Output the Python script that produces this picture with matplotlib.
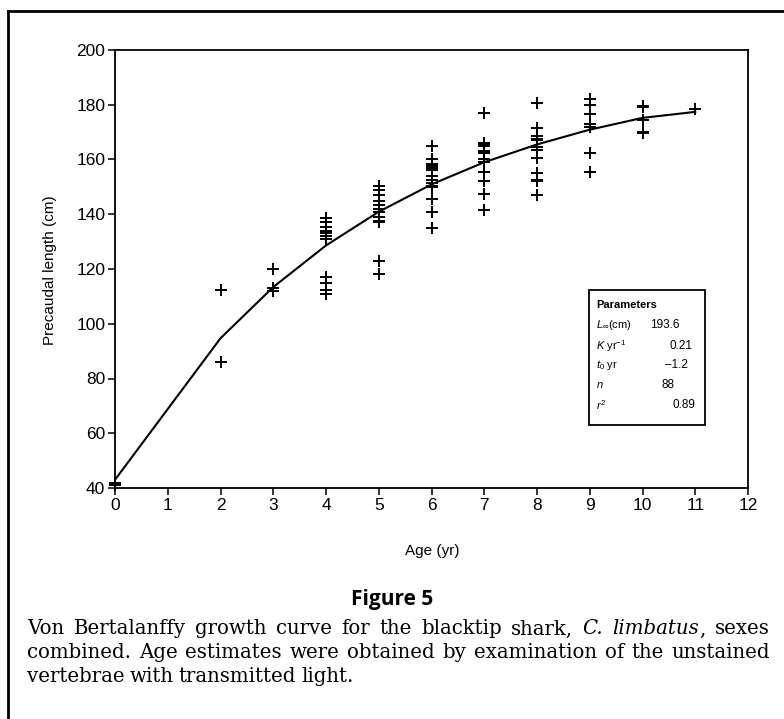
import matplotlib
matplotlib.use("Agg")
import matplotlib.pyplot as plt
from matplotlib.lines import Line2D
from matplotlib.patches import Rectangle

plt.rcParams['font.family'] = ['Liberation Sans', 'DejaVu Sans']
plt.rcParams['mathtext.fontset'] = 'custom'
plt.rcParams['mathtext.rm'] = 'Liberation Sans'
plt.rcParams['mathtext.it'] = 'Liberation Sans:italic'
plt.rcParams['mathtext.bf'] = 'Liberation Sans:bold'

obs = {
    0: [42.0, 41.0],
    2: [112.5, 86.0],
    3: [120.0, 113.0, 112.0],
    4: [138.5, 137.0, 135.5, 134.0, 133.0, 132.0, 131.0, 117.0, 115.0, 112.5, 111.0],
    5: [150.5, 149.0, 147.0, 145.0, 143.5, 142.0, 141.0, 139.0, 137.5, 137.0, 123.0, 118.0],
    6: [165.0, 160.0, 158.5, 157.5, 157.0, 156.0, 154.0, 152.5, 151.5, 150.5, 150.0, 145.5, 141.0, 135.0],
    7: [177.0, 166.0, 165.5, 165.0, 163.0, 162.5, 160.0, 159.0, 155.5, 152.0, 147.5, 141.5],
    8: [180.5, 171.5, 168.5, 167.5, 167.0, 164.5, 163.5, 160.5, 155.0, 152.5, 152.0, 147.0],
    9: [182.0, 180.0, 176.5, 173.0, 172.0, 162.5, 155.5],
    10: [179.5, 179.0, 174.5, 170.0, 169.5],
    11: [178.5],
}

# fitted growth curve, read at each age
curve_age = [0, 2, 3, 4, 5, 6, 7, 8, 9, 10, 11]
curve_len = [43.0, 94.7, 113.4, 128.6, 140.9, 150.9, 159.0, 165.5, 170.9, 175.2, 177.4]

param_names = [r'$L_{\infty}$(cm)', r'$K$ yr$^{-1}$', r'$t_0$ yr', r'$n$', r'$r^2$']
param_values = ['193.6', '0.21', '\u20131.2', '88', '0.89']

caption_lines = [
    [("Von", 'normal'), ("Bertalanffy", 'normal'), ("growth", 'normal'), ("curve", 'normal'),
     ("for", 'normal'), ("the", 'normal'), ("blacktip", 'normal'), ("shark,", 'normal'),
     ("C.", 'italic'), ("limbatus", 'italic'), (",", 'attach'), ("sexes", 'normal')],
    [(w, 'normal') for w in "combined. Age estimates were obtained by examination of the unstained".split()],
    [(w, 'normal') for w in "vertebrae with transmitted light.".split()],
]

W, H = 784, 719
fig = plt.figure(figsize=(W / 100, H / 100), dpi=100)
ax = fig.add_axes([115 / W, 1 - 488 / H, (748 - 115) / W, (488 - 50) / H])

xs, ys = [], []
for age, vals in obs.items():
    for v in vals:
        xs.append(age)
        ys.append(v)
ax.plot(xs, ys, linestyle='none', marker='+', markersize=8, markeredgewidth=1.4,
        color='black', clip_on=False)
ax.plot(curve_age, curve_len, color='black', linewidth=1.5)

ax.set_xlim(0, 12)
ax.set_ylim(40, 200)
ax.set_xticks(range(0, 13))
ax.set_yticks(range(40, 201, 20))
ax.tick_params(direction='out', length=5, width=1.1, labelsize=12.5, pad=2, colors='black')
for s in ax.spines.values():
    s.set_linewidth(1.3)

fig.text(432 / W, 1 - 551 / H, 'Age (yr)', ha='center', va='center', fontsize=11)
fig.text(50 / W, 1 - 270 / H, 'Precaudal length (cm)', ha='center', va='center',
         rotation=90, fontsize=11)

# parameter box
fig.patches.append(Rectangle((589 / W, 1 - 425 / H), (705 - 589) / W, (425 - 290) / H,
                             transform=fig.transFigure, fill=False, edgecolor='black',
                             linewidth=1.3))
fig.text(596 / W, 1 - 305 / H, 'Parameters', fontsize=8, fontweight='bold', va='center')
row_y = [325, 346, 365, 385, 405]
val_x = [650, 693, 688, 662, 695]
val_ha = ['left', 'right', 'right', 'left', 'right']
for name, val, yy, vx, ha in zip(param_names, param_values, row_y, val_x, val_ha):
    fig.text(596 / W, 1 - yy / H, name, fontsize=8, va='center')
    fig.text(vx / W, 1 - yy / H, val, fontsize=8.5, va='center', ha=ha)

# outer frame (left and top rules of the page)
fig.lines.append(Line2D([8 / W, 8 / W], [0, 1 - 11 / H], transform=fig.transFigure,
                        color='black', linewidth=2))
fig.lines.append(Line2D([8 / W, 1], [1 - 11 / H, 1 - 11 / H], transform=fig.transFigure,
                        color='black', linewidth=2))

fig.text(392 / W, 1 - 600 / H, 'Figure 5', ha='center', va='center', fontsize=15,
         fontweight='bold', family='Open Sans')

# justified caption
renderer = fig.canvas.get_renderer()
left, right = 27, 770
line_y = [629, 653, 677]
cap_size = 14.2
for li, (words, yy) in enumerate(zip(caption_lines, line_y)):
    items = []
    for w, st in words:
        t = fig.text(0, 1 - yy / H, w, fontsize=cap_size, family='DejaVu Serif',
                     style='italic' if st == 'italic' else 'normal', va='center')
        wpx = t.get_window_extent(renderer).width
        items.append((t, wpx, st == 'attach'))
    total = sum(i[1] for i in items)
    n_gaps = sum(1 for i in items[1:] if not i[2])
    if li < len(caption_lines) - 1:
        gap = (right - left - total) / n_gaps
    else:
        gap = 5
    x = left
    for k, (t, wpx, attach) in enumerate(items):
        if k > 0 and not attach:
            x += gap
        t.set_x(x / W)
        x += wpx

fig.savefig('out.png', dpi=100)
